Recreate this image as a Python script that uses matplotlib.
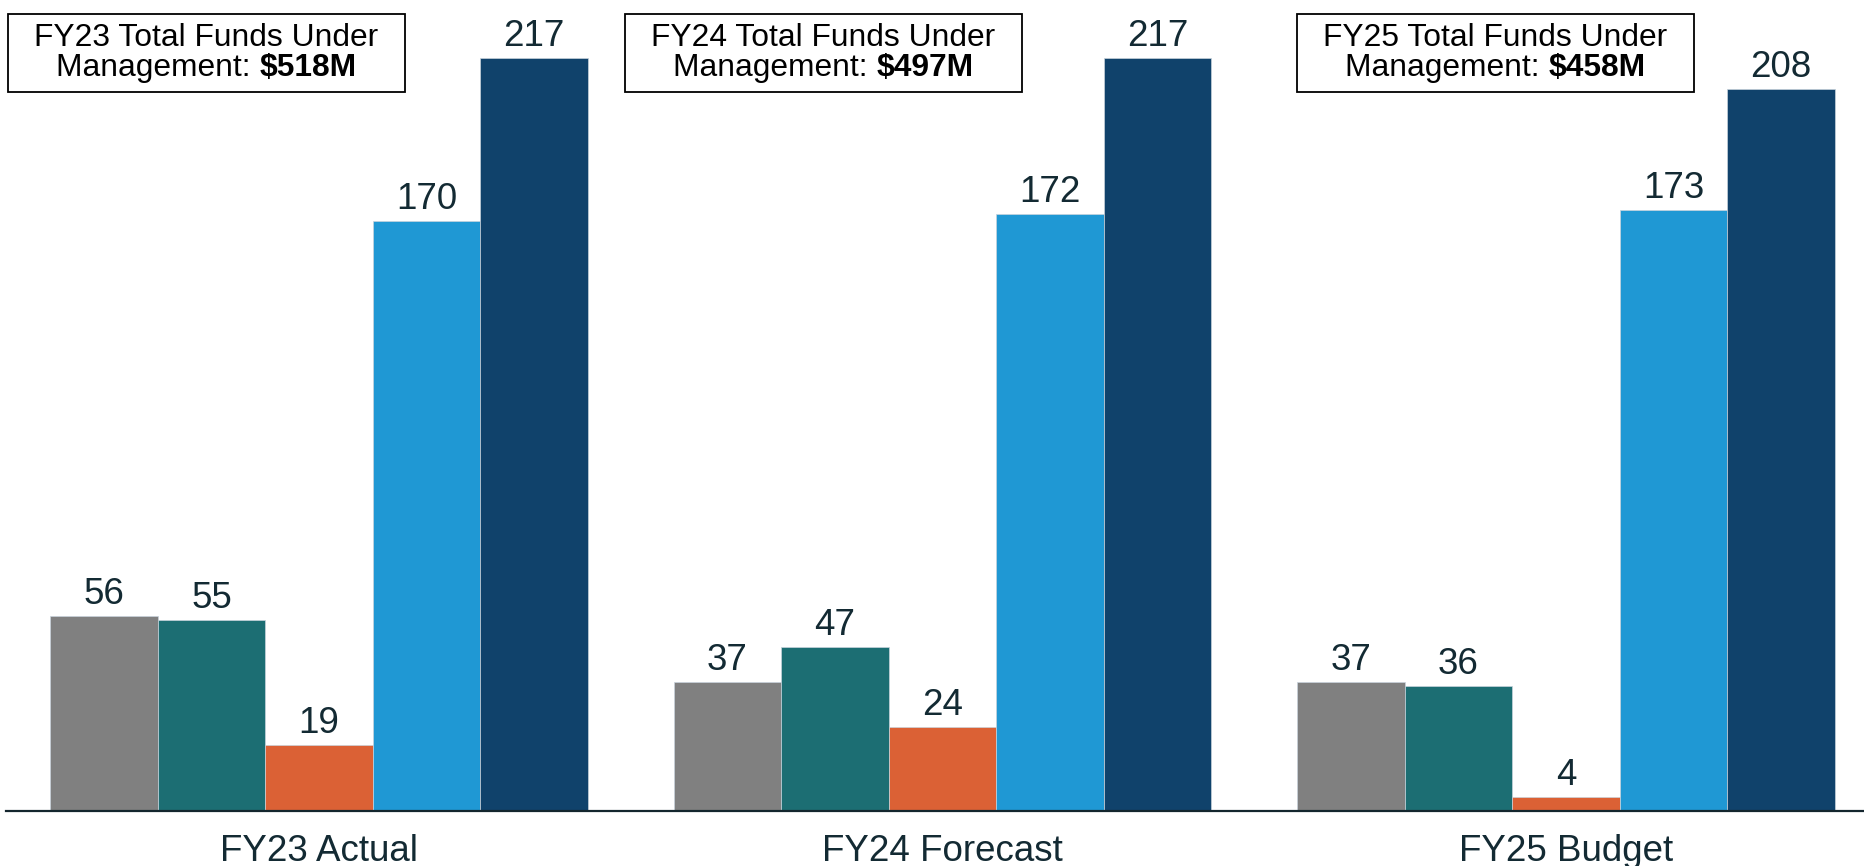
import matplotlib
matplotlib.use("Agg")
import matplotlib.pyplot as plt
from matplotlib.patches import Rectangle

# ---------------- data ----------------
groups = ["FY23 Actual", "FY24 Forecast", "FY25 Budget"]
series_gray = [56, 37, 37]
series_teal = [55, 47, 36]
series_orange = [19, 24, 4]
series_lightblue = [170, 172, 173]
series_navy = [217, 217, 208]
box_years = ["FY23", "FY24", "FY25"]
box_totals = ["$518M", "$497M", "$458M"]

series = [series_gray, series_teal, series_orange, series_lightblue, series_navy]
colors = ["#808080", "#1C6E73", "#DB6135", "#1F98D4", "#10426B"]

W, H = 1864, 866
plt.rcParams["font.family"] = ["Liberation Sans", "DejaVu Sans"]
fig = plt.figure(figsize=(W / 100, H / 100), dpi=100)

base_px = 810.5
px_per_unit = 3.47
left_px = 6
ax = fig.add_axes([left_px / W, (H - base_px) / H, 1 - left_px / W, base_px / H])
ax.set_ylim(0, base_px / px_per_unit)
spacing_px = 623.5
ax.set_xlim((left_px - 319) / spacing_px, (W - 319) / spacing_px)

bw = 107.5 / spacing_px
label_color = "#132a33"
for j, (vals, c) in enumerate(zip(series, colors)):
    xs = [i + (j - 2) * bw for i in range(len(groups))]
    ax.bar(xs, vals, width=bw, color=c, edgecolor="#c9d3dc", linewidth=0.5)
    for x, v in zip(xs, vals):
        ax.annotate(str(v), xy=(x, v), xytext=(0, 12 * 72 / 100),
                    textcoords="offset points", ha="center", va="baseline",
                    fontsize=26.5, color=label_color)

for s in ["top", "right", "left"]:
    ax.spines[s].set_visible(False)
ax.spines["bottom"].set_color("#14262e")
ax.spines["bottom"].set_linewidth(1.6)
ax.set_yticks([])
ax.set_xticks(range(len(groups)))
ax.set_xticklabels(groups, fontsize=26.5, color=label_color)
ax.tick_params(axis="x", length=0, pad=50.5 * 72 / 100)
for lab in ax.get_xticklabels():
    lab.set_verticalalignment("baseline")

# ---------------- annotation boxes ----------------
box_left = [8, 625, 1297]
box_w = 397
box_top, box_bot = 14, 91.5
base1, base2 = 46, 76
fs_box = 22.9

def fx(px):
    return px / W

def fy(py):
    return 1 - py / H

renderer = fig.canvas.get_renderer()
for yr, tot, bl in zip(box_years, box_totals, box_left):
    fig.patches.append(Rectangle((fx(bl), fy(box_bot)), box_w / W, (box_bot - box_top) / H,
                                 transform=fig.transFigure, fill=True, facecolor="white",
                                 edgecolor="black", linewidth=1.3))
    cx = bl + box_w / 2
    fig.text(fx(cx), fy(base1), f"{yr} Total Funds Under", ha="center", va="baseline",
             fontsize=fs_box, color="black")
    t1 = fig.text(0, fy(base2), "Management: ", ha="left", va="baseline",
                  fontsize=fs_box, color="black")
    t2 = fig.text(0, fy(base2), tot, ha="left", va="baseline",
                  fontsize=fs_box, color="black", fontweight="bold")
    w1 = t1.get_window_extent(renderer).width
    w2 = t2.get_window_extent(renderer).width
    start = cx - (w1 + w2) / 2
    t1.set_x(fx(start))
    t2.set_x(fx(start + w1))

fig.savefig("out.png", dpi=100)
